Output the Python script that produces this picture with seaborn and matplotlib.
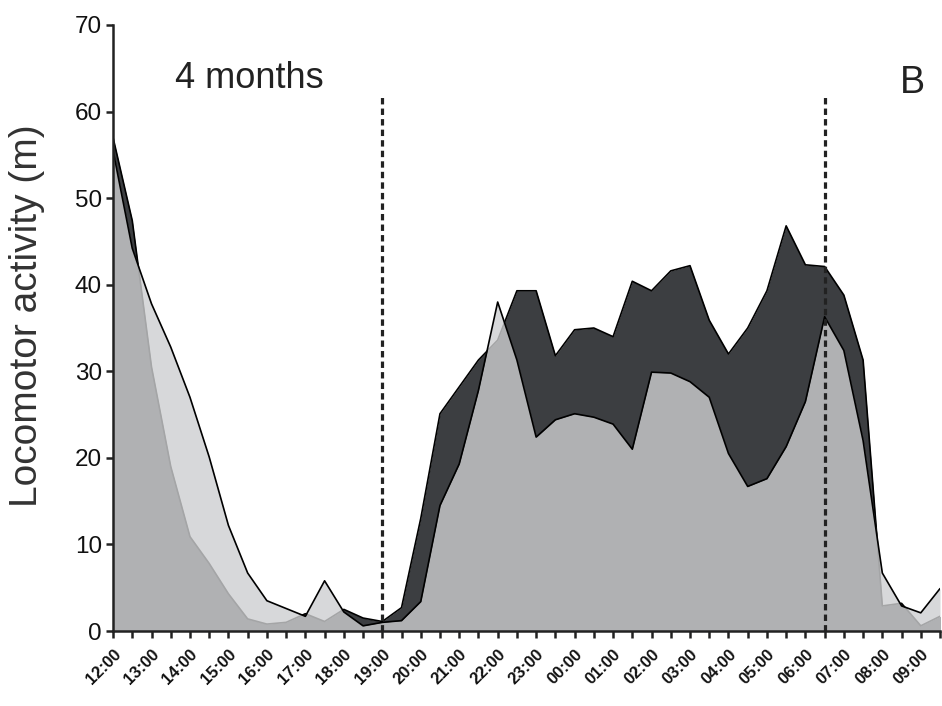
import numpy as np
import pandas as pd
import matplotlib
matplotlib.use("Agg")
import matplotlib.pyplot as plt
import seaborn as sns

# half-hour bins from 12:00 to 09:30, labels on the full hours
hour_labels = ["12:00", "13:00", "14:00", "15:00", "16:00", "17:00", "18:00",
               "19:00", "20:00", "21:00", "22:00", "23:00", "00:00", "01:00",
               "02:00", "03:00", "04:00", "05:00", "06:00", "07:00", "08:00",
               "09:00"]
n_bins = 44

# front group (light, drawn on top)
group_front = [55.5, 44.2, 37.8, 32.8, 27.0, 20.1, 12.2, 6.7, 3.5, 2.6, 1.7,
               5.8, 2.2, 0.6, 1.0, 1.2, 3.4, 14.5, 19.3, 27.8, 38.0, 31.3,
               22.4, 24.4, 25.1, 24.7, 23.9, 21.0, 29.9, 29.8, 28.8, 27.0,
               20.5, 16.7, 17.6, 21.3, 26.5, 36.3, 32.4, 22.0, 6.7, 2.9,
               2.1, 4.9]
# back group (dark)
group_back = [57.0, 47.4, 30.5, 19.0, 10.9, 7.8, 4.3, 1.4, 0.8, 1.0, 2.0,
              1.1, 2.5, 1.5, 1.1, 2.7, 13.0, 25.1, 28.2, 31.3, 33.6, 39.3,
              39.3, 31.8, 34.8, 35.0, 34.0, 40.4, 39.3, 41.6, 42.2, 35.9,
              32.0, 35.0, 39.3, 46.8, 42.3, 42.1, 38.8, 31.3, 2.9, 3.2,
              0.6, 1.7]

lights_off = 14   # 19:00
lights_on = 37    # 06:30

df = pd.DataFrame({
    "slot": np.arange(n_bins),
    "front": group_front,
    "back": group_back,
})

sns.set_style("ticks")
plt.rcParams["font.family"] = ["Liberation Sans", "DejaVu Sans"]

fig = plt.figure(figsize=(9.42, 7.06), dpi=100)
ax = fig.add_axes([0.12, 0.1062, 0.8779, 0.8584])

# dark group first
ax.fill_between(df["slot"], 0, df["back"], color="#3c3e41", lw=0, zorder=1)
sns.lineplot(data=df, x="slot", y="back", color="black", lw=1.2, ax=ax, zorder=2)

# light group on top, partly see-through
ax.fill_between(df["slot"], 0, df["front"], color="#cecfd1", alpha=0.8, lw=0, zorder=3)
sns.lineplot(data=df, x="slot", y="front", color="black", lw=1.2, ax=ax, zorder=4)

for pos in [lights_off, lights_on]:
    ax.axvline(pos, ymin=0, ymax=0.882, color="#222222", lw=2.3,
               linestyle=(0, (2.0, 1.3)), zorder=5)

ax.set_xlim(0, n_bins - 1)
ax.set_ylim(0, 70)
ax.set_yticks(range(0, 71, 10))
ax.set_xticks(np.arange(n_bins))
ax.set_xticklabels([hour_labels[i // 2] if i % 2 == 0 else "" for i in range(n_bins)],
                   rotation=45, ha="right", va="top", rotation_mode="anchor",
                   fontsize=12, fontweight="bold")
ax.tick_params(axis="y", labelsize=17.5, length=5, width=1.8, color="#222222",
               labelcolor="#111111", pad=3)
ax.tick_params(axis="x", length=5, width=1.8, color="#222222",
               labelcolor="#111111", pad=6)

for side in ["top", "right"]:
    ax.spines[side].set_visible(False)
for side in ["left", "bottom"]:
    ax.spines[side].set_linewidth(1.8)
    ax.spines[side].set_color("#222222")
    ax.spines[side].set_zorder(6)

ax.set_xlabel("")
ax.set_ylabel("Locomotor activity (m)", fontsize=28, color="#333333")
ax.yaxis.set_label_coords(-0.082, 0.52)

ax.text(0.075, 0.896, "4 months", transform=ax.transAxes, fontsize=26,
        color="#222222", va="baseline", ha="left")
ax.text(0.982, 0.888, "B", transform=ax.transAxes, fontsize=27,
        color="#222222", va="baseline", ha="right")

fig.savefig("out.png", dpi=100)
